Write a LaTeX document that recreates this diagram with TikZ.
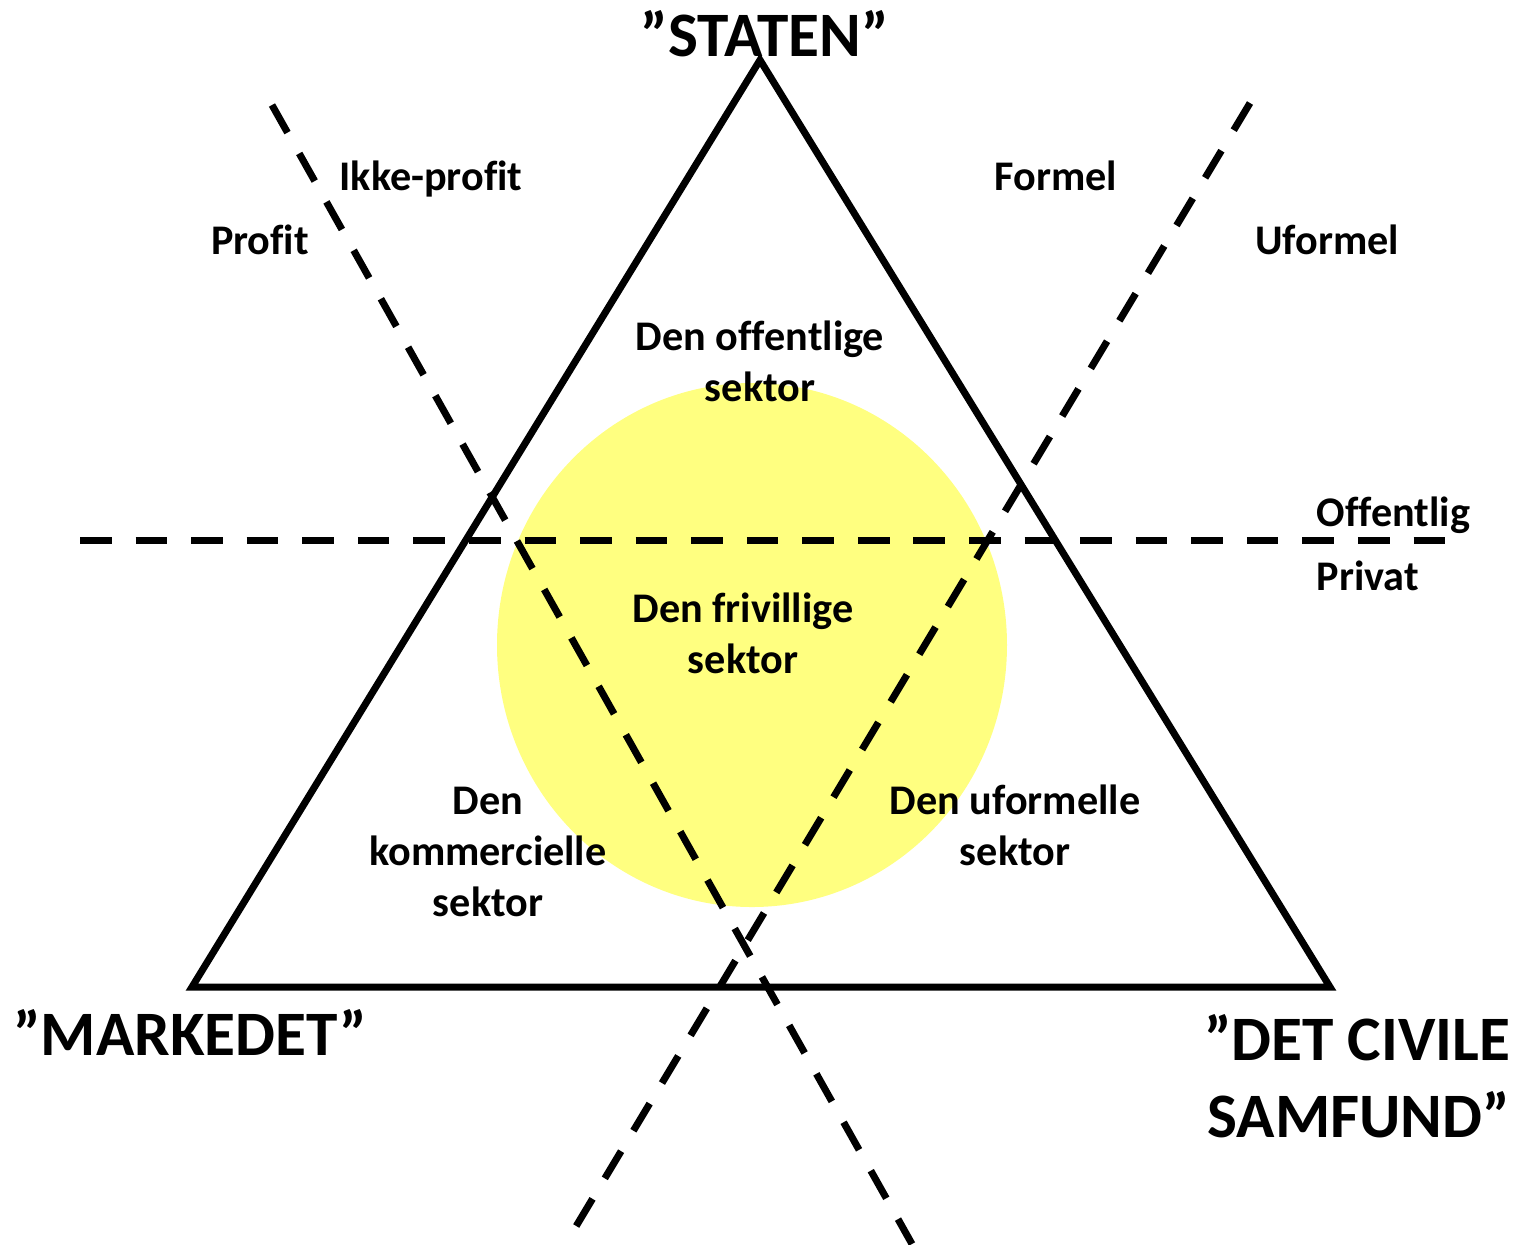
\documentclass[tikz,border=0pt]{standalone}
\usepackage{fontspec}
\setmainfont[Ligatures=NoCommon]{Carlito}
\usepackage{xcolor}
\usetikzlibrary{positioning, calc}
\definecolor{softyellow}{RGB}{255,255,128}

\begin{document}
\begin{tikzpicture}[
    x=0.01cm, y=-0.01cm,
    tri/.style={draw, line width=2pt, line join=miter},
    cut/.style={draw, line width=2pt, dash pattern=on 9pt off 6.8pt},
    lab/.style={font=\fontsize{12}{14.5}\selectfont\bfseries, inner sep=0pt, align=center},
    corner/.style={font=\fontsize{18}{22}\selectfont\bfseries, inner sep=0pt}
  ]
  \useasboundingbox (0,0) rectangle (1517,1244);
  \fill[softyellow] (752,645) ellipse [x radius=255, y radius=262];
  \coordinate (top) at (760,60);
  \coordinate (left) at (192,987);
  \coordinate (right) at (1330,987);
  \draw[tri] (top) -- (left) -- (right) -- cycle;
  \coordinate (h1) at (80,540);
  \coordinate (h2) at (1458,540);
  \coordinate (p1) at (272,105);
  \coordinate (p2) at (912,1244);
  \coordinate (f1) at (1250,103);
  \coordinate (f2) at (575,1228);
  \draw[cut] (h1) -- (h2);
  \draw[cut] (p1) -- (p2);
  \draw[cut] (f1) -- (f2);
  \node[corner, anchor=base] (staten) at (765,56) {”STATEN”};
  \node[corner, anchor=base] (marked) at (190,1055) {”MARKEDET”};
  \node[corner, anchor=east, align=right] (civil) at (1511,1076) {”DET CIVILE\\SAMFUND”};
  \node[lab, anchor=base] (ikke) at (431,190) {Ikke-profit};
  \node[lab, anchor=base] (profit) at (260,254) {Profit};
  \node[lab, anchor=base] (formel) at (1056,190) {Formel};
  \node[lab, anchor=base] (uformel) at (1327,254) {Uformel};
  \node[lab, anchor=base west] (offentlig) at (1316,526) {Offentlig};
  \node[lab, anchor=base west] (privat) at (1316,590) {Privat};
  \node[lab] (offsek) at (760,361) {Den offentlige\\sektor};
  \node[lab] (frisek) at (743,633) {Den frivillige\\sektor};
  \node[lab] (komsek) at (488,852) {Den\\kommercielle\\sektor};
  \node[lab] (ufosek) at (1015,825) {Den uformelle\\sektor};
\end{tikzpicture}
\end{document}
